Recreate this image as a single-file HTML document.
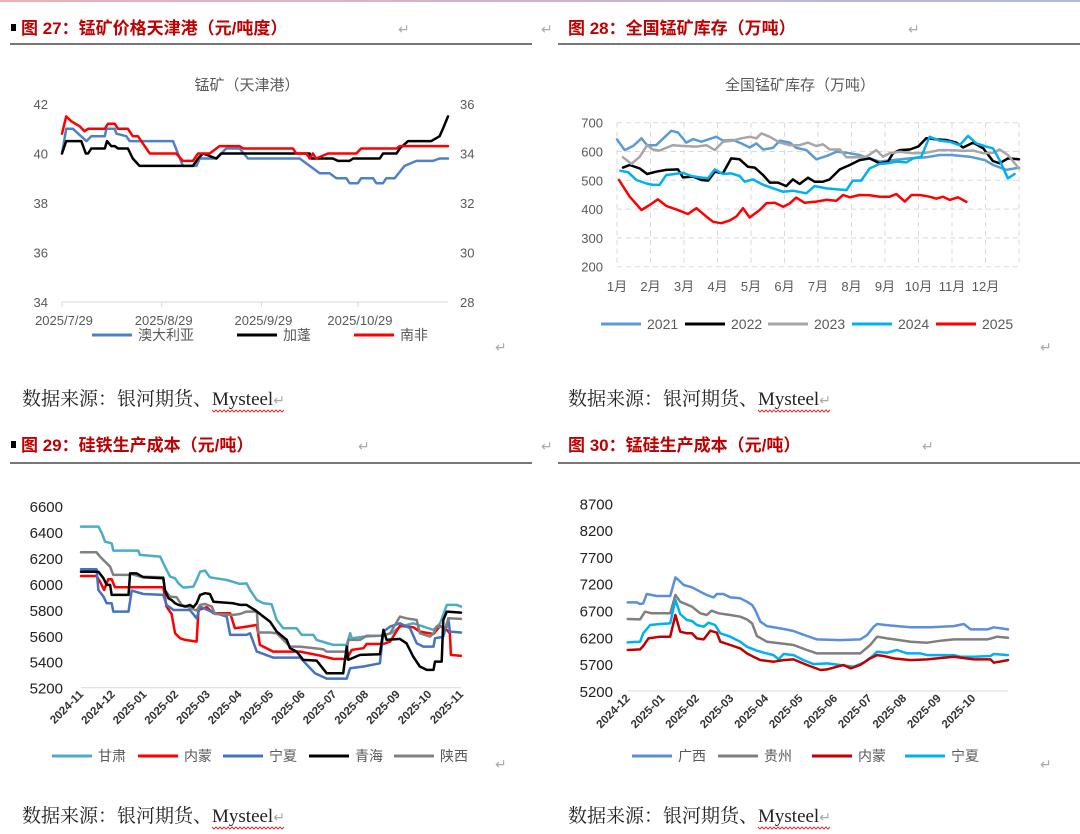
<!DOCTYPE html>
<html><head><meta charset="utf-8">
<style>
body{margin:0;background:#fff;}
#wrap{position:relative;width:1080px;height:834px;overflow:hidden;font-family:"Liberation Sans","Noto Sans CJK SC",sans-serif;}
svg{position:absolute;left:0;top:0;}
</style></head>
<body>
<div id="wrap">
<svg id="s" width="1080" height="834" viewBox="0 0 1080 834">
<defs><linearGradient id="tg" x1="0" x2="1"><stop offset="0" stop-color="#f0b0b8"/><stop offset="1" stop-color="#b0b8e0"/></linearGradient></defs>
<rect x="0" y="0" width="1080" height="2" fill="url(#tg)"/>
<g font-family="'Liberation Sans','Noto Sans CJK SC',sans-serif" font-weight="bold" font-size="17" fill="#c00000">
<rect x="11" y="24" width="5" height="7" fill="#000"/>
<text x="21" y="34">图 27：锰矿价格天津港（元/吨度）</text>
<text x="568" y="34">图 28：全国锰矿库存（万吨）</text>
<rect x="11" y="441" width="5" height="7" fill="#000"/>
<text x="21" y="451">图 29：硅铁生产成本（元/吨）</text>
<text x="568" y="451">图 30：锰硅生产成本（元/吨）</text>
</g>
<g fill="#aaa" font-size="14">
<text x="398" y="34">↵</text><text x="541" y="34">↵</text><text x="908" y="34">↵</text>
<text x="358" y="451">↵</text><text x="541" y="451">↵</text><text x="922" y="451">↵</text>
<text x="495" y="352">↵</text><text x="1040" y="352">↵</text><text x="495" y="769">↵</text><text x="1040" y="769">↵</text>
</g>
<rect x="10" y="43" width="522" height="2" fill="#777"/>
<rect x="558" y="43" width="522" height="2" fill="#777"/>
<rect x="10" y="462" width="522" height="2" fill="#777"/>
<rect x="558" y="462" width="522" height="2" fill="#777"/>
<g font-family="'Liberation Serif','Noto Serif CJK SC',serif" font-size="19" fill="#222">
<text x="22" y="405">数据来源：银河期货、Mysteel<tspan fill="#aaa" font-size="14">↵</tspan></text>
<text x="568" y="405">数据来源：银河期货、Mysteel<tspan fill="#aaa" font-size="14">↵</tspan></text>
<text x="22" y="822">数据来源：银河期货、Mysteel<tspan fill="#aaa" font-size="14">↵</tspan></text>
<text x="568" y="822">数据来源：银河期货、Mysteel<tspan fill="#aaa" font-size="14">↵</tspan></text>
</g>
<g id="waves" fill="none" stroke="#e03030" stroke-width="1"></g>
<g id="g1"></g>
<g id="g2"></g>
<g id="g3"></g>
<g id="g4"></g>
</svg>
</div>
<script>
const c1TickDays=[0,31,62,92];
const c1TickLabels=["2025/7/29","2025/8/29","2025/9/29","2025/10/29"];
const c1LeftTicks=[34,36,38,40,42];
const c1RightTicks=[28,30,32,34,36];
const ausDays=[0,1.3,3.4,7.6,9.1,13.3,13.8,16.4,16.9,20,21,34.5,37.6,41.8,42.8,48,51,55.2,57.8,73.9,77,80.1,83.2,85.3,88.4,89.4,92,93,96.7,97.7,99.8,100.8,103.4,106.5,110.2,115.3,117.4,120];
const ausVals=[40,41,41,40.5,40.7,40.7,41,41,40.8,40.7,40.5,40.5,39.5,39.5,39.8,39.8,40.2,40.2,39.8,39.8,39.5,39.2,39.2,39,39,38.8,38.8,39,39,38.8,38.8,39,39,39.5,39.7,39.7,39.8,39.8];
const safDays=[0,1.3,2.9,5.5,7,8.1,13.3,14.3,16.4,17.4,20.5,22,23.6,27.3,35.5,37.6,40.7,42.3,45.9,49,55.2,56.3,71.8,72.8,76,77,78,79,82.7,91.5,93,104,105,120];
const safVals=[40.8,41.5,41.3,41.1,40.9,41,41,41.2,41.2,41,41,40.7,40.7,40,40,39.7,39.7,40,40,40.3,40.3,40.2,40.2,40,40,39.8,40,39.8,40,40,40.2,40.2,40.3,40.3];
const gabDays=[0,1.3,6,7.4,8.1,9.1,13.3,14,15.3,16.4,17.4,20.5,22,24.1,40.7,42.3,43.8,48,49.5,77,77.5,84.2,85.8,89.4,90.5,98.8,99.8,104,105,107.6,114.8,117.4,118.4,120];
const gabVals=[34,34.5,34.5,34,34,34.2,34.2,34.5,34.3,34.3,34.2,34.2,33.8,33.5,33.5,33.8,34,33.8,34,34,33.8,33.8,33.7,33.7,33.8,33.8,34,34,34.2,34.5,34.5,34.7,35,35.5];
const c2Ticks=[200,300,400,500,600,700];
const c2Months=["1月","2月","3月","4月","5月","6月","7月","8月","9月","10月","11月","12月"];
const y2021x=[0,.23,.48,.73,.9,1.17,1.62,1.82,2.07,2.27,2.52,2.96,3.16,3.46,3.71,3.96,4.16,4.36,4.66,4.86,5.16,5.35,5.65,5.95,6.25,6.55,6.85,7.24,7.54,7.84,8.24,8.73,9.23,9.63,9.98,10.53,10.98,11.23,11.62,12];
const y2021v=[642,605,619,646,622,622,672,666,631,643,634,651,638,640,628,614,628,607,613,638,631,613,605,573,584,599,596,588,576,565,570,576,580,588,588,582,570,553,536,544];
const y2022x=[.18,.38,.68,.9,1.17,1.47,1.82,1.97,2.27,2.52,2.72,2.92,3.16,3.41,3.66,3.91,4.11,4.36,4.56,4.81,5.05,5.25,5.45,5.7,5.9,6.15,6.35,6.65,6.95,7.24,7.54,7.84,8.09,8.24,8.44,8.74,8.99,9.23,9.53,9.83,10.13,10.33,10.63,10.93,11.22,11.42,11.67,12];
const y2022v=[544,553,541,522,530,536,538,510,513,501,499,530,524,576,573,547,544,518,492,492,480,503,487,509,495,495,503,538,553,570,576,559,565,594,605,607,617,646,642,640,631,614,631,611,567,559,576,573];
const y2023x=[.18,.43,.68,.9,1.07,1.27,1.67,1.97,2.37,2.67,2.92,3.16,3.46,3.71,3.96,4.16,4.31,4.56,4.86,5.16,5.45,5.7,5.95,6.15,6.35,6.65,6.85,7.14,7.44,7.74,7.94,8.14,8.44,8.84,9.23,9.63,9.98,10.33,10.63,10.93,11.22,11.42,11.67,12];
const y2023v=[580,557,582,622,607,603,622,619,617,622,605,634,638,646,651,646,663,651,631,622,622,631,619,625,607,607,580,580,582,605,582,594,599,594,596,605,605,602,603,594,596,607,588,541];
const y2024x=[.1,.33,.58,.88,1.07,1.27,1.47,1.72,1.97,2.22,2.47,2.72,2.92,3.16,3.41,3.66,3.81,4.06,4.31,4.56,4.96,5.25,5.65,5.9,6.25,6.55,6.85,7.04,7.29,7.54,7.84,8.09,8.34,8.64,8.84,9.08,9.33,9.63,9.93,10.23,10.48,10.73,11.02,11.22,11.42,11.67,11.87];
const y2024v=[533,528,501,489,484,484,518,522,526,515,510,507,538,522,524,515,495,503,487,476,460,464,455,480,472,469,466,499,499,541,557,559,565,562,576,582,651,638,634,622,654,628,617,611,570,507,522];
const y2025x=[.06,.38,.73,.97,1.22,1.47,1.77,2.12,2.37,2.67,2.87,3.11,3.36,3.56,3.76,3.96,4.26,4.46,4.71,4.96,5.16,5.35,5.6,5.95,6.25,6.55,6.75,6.95,7.24,7.54,7.84,8.14,8.34,8.59,8.79,9.04,9.33,9.53,9.73,9.93,10.18,10.43];
const y2025v=[501,443,397,414,434,411,399,383,403,374,356,351,360,374,403,371,397,420,422,408,420,440,422,426,432,429,449,441,449,448,443,443,452,426,449,449,443,436,443,432,441,425];
const c3Ticks=[5200,5400,5600,5800,6000,6200,6400,6600];
const c3Labels=["2024-11","2024-12","2025-01","2025-02","2025-03","2025-04","2025-05","2025-06","2025-07","2025-08","2025-09","2025-10","2025-11"];
const gsX=[0,.55,.66,.76,.97,1.02,1.81,1.86,2.5,2.65,2.81,2.97,3.08,3.23,3.55,3.65,3.76,3.92,4.07,4.6,5.02,5.23,5.34,5.55,5.76,6.02,6.18,6.39,6.81,6.97,7.34,7.44,7.71,7.97,8.39,8.5,8.55,8.92,9.44,9.81,10.07,10.49,10.81,11.13,11.34,11.55,11.86,12];
const gsV=[6441,6441,6390,6325,6312,6256,6256,6223,6210,6133,6056,6043,6004,5971,5979,6030,6094,6102,6051,6030,6000,6004,5953,5876,5850,5843,5722,5658,5658,5607,5607,5568,5548,5530,5530,5620,5581,5594,5601,5620,5671,5696,5671,5645,5696,5838,5838,5825];
const nmX=[0,.49,.6,.73,.86,.97,1.07,2.6,2.7,2.86,2.97,3.13,3.29,3.65,3.71,3.97,4.18,4.71,4.86,5.23,5.55,5.65,6.07,6.92,7.55,7.97,8.39,8.55,8.92,9.02,9.55,9.76,10.07,10.49,10.7,11.13,11.34,11.55,11.65,11.68,12];
const nmV=[6061,6061,6017,5953,6035,6035,5974,5974,5825,5768,5619,5581,5568,5555,5799,5820,5773,5773,5658,5671,5684,5530,5478,5478,5447,5422,5422,5491,5504,5537,5537,5555,5676,5666,5632,5614,5676,5645,5619,5453,5445];
const nxX=[0,.49,.55,.71,.81,.97,1.02,1.5,1.6,1.97,2.6,2.7,2.92,3.44,3.65,3.76,4.18,4.6,4.71,5.23,5.34,5.55,6.07,6.92,7.39,7.76,8.39,8.5,8.92,9.44,9.55,9.76,10.07,10.39,10.6,10.81,11.13,11.18,11.44,11.6,11.65,12];
const nxV=[6112,6112,5953,5902,5850,5850,5786,5786,5948,5922,5915,5838,5799,5799,5735,5825,5779,5748,5607,5607,5619,5478,5432,5432,5311,5270,5270,5350,5363,5388,5632,5671,5696,5658,5542,5517,5517,5581,5594,5735,5632,5625];
const qhX=[0,.55,.71,.81,.92,.97,1.5,1.55,1.76,1.97,2.6,2.65,2.76,2.86,2.97,3.08,3.29,3.44,3.55,3.65,3.76,3.92,4.07,4.18,4.81,5.02,5.23,5.49,5.76,5.97,6.18,6.5,6.6,6.81,7.02,7.44,7.55,7.76,8.28,8.39,8.44,8.81,9.44,9.55,9.65,10.07,10.28,10.49,10.7,10.92,11.13,11.18,11.39,11.44,11.55,12];
const qhV=[6094,6094,6043,5992,5992,5915,5915,6081,6081,6051,6043,5953,5889,5876,5850,5838,5825,5838,5820,5850,5915,5928,5922,5863,5850,5838,5838,5799,5748,5709,5632,5568,5504,5478,5414,5409,5376,5311,5311,5517,5414,5453,5458,5645,5568,5576,5542,5440,5363,5337,5337,5401,5401,5722,5786,5779];
const sxX=[0,.49,.6,.76,.92,1.02,1.5,1.6,1.86,2.6,2.65,2.81,3.02,3.18,3.34,3.65,3.76,3.92,4.13,4.23,4.81,5.02,5.23,5.55,5.6,5.97,6.18,6.39,6.6,6.92,7.65,7.76,8.39,8.44,8.81,9.02,9.55,9.76,10.07,10.28,10.6,10.7,11.02,11.13,11.23,11.55,11.6,12];
const sxV=[6243,6243,6210,6171,6133,6069,6069,6076,6056,6051,5953,5902,5897,5838,5825,5794,5838,5845,5825,5768,5761,5768,5786,5786,5625,5625,5619,5568,5517,5517,5496,5478,5478,5568,5568,5601,5601,5619,5748,5735,5722,5619,5594,5619,5671,5666,5735,5730];
const c4Ticks=[5200,5700,6200,6700,7200,7700,8200,8700];
const c4Labels=["2024-12","2025-01","2025-02","2025-03","2025-04","2025-05","2025-06","2025-07","2025-08","2025-09","2025-10"];
const gxX=[0,.26,.36,.45,.55,.7,.84,1.23,1.38,1.47,1.62,1.86,2.1,2.29,2.49,2.58,2.77,2.97,3.26,3.45,3.6,3.69,3.84,4.03,4.42,4.8,5.19,5.48,6.15,6.73,6.93,7.12,7.22,7.46,7.8,8.19,8.77,9.44,9.73,9.93,10.41,10.6,11.01];
const gxV=[6853,6853,6822,6834,7008,6990,6971,6971,7319,7270,7176,7133,7052,6990,6946,7008,7008,6946,6928,6865,6803,6710,6492,6411,6368,6318,6225,6163,6150,6163,6243,6399,6449,6430,6411,6387,6387,6411,6449,6349,6349,6387,6349];
const gzX=[0,.36,.5,.7,1.23,1.38,1.52,1.86,2.1,2.29,2.43,2.63,2.97,3.26,3.45,3.6,3.74,4.03,4.42,4.8,5.19,5.48,6.73,7.02,7.22,7.51,8.19,8.67,9.06,9.44,10.41,10.7,11.01];
const gzV=[6542,6536,6679,6648,6648,6990,6865,6772,6648,6617,6698,6648,6617,6586,6536,6461,6225,6119,6088,6057,5964,5901,5901,6057,6212,6181,6119,6100,6138,6163,6163,6212,6194];
const nm4X=[0,.36,.45,.6,.94,1.23,1.38,1.52,1.71,1.86,2.0,2.2,2.39,2.58,2.68,2.97,3.26,3.45,3.64,3.84,4.22,4.51,4.8,5.19,5.58,5.77,6.06,6.25,6.45,6.73,7.02,7.22,7.41,7.7,8.19,8.67,9.44,10.02,10.5,10.6,11.01];
const nm4V=[5964,5976,6038,6181,6212,6212,6617,6306,6275,6275,6181,6163,6324,6287,6119,6057,5995,5901,5839,5777,5746,5777,5790,5684,5591,5603,5653,5684,5622,5684,5808,5870,5852,5808,5777,5790,5839,5790,5790,5727,5777];
const nx4X=[0,.36,.45,.65,.94,1.23,1.38,1.52,1.71,1.86,2.0,2.2,2.34,2.53,2.68,2.97,3.26,3.45,3.74,3.94,4.22,4.37,4.51,4.8,5.09,5.38,5.77,6.15,6.54,6.83,7.07,7.22,7.51,7.8,8.09,8.48,8.67,9.44,9.63,10.02,10.5,10.6,11.01];
const nx4V=[6107,6119,6275,6430,6449,6461,6896,6635,6523,6505,6430,6399,6474,6430,6275,6212,6119,6026,5951,5914,5870,5790,5889,5870,5777,5702,5715,5684,5653,5727,5839,5932,5914,5964,5901,5901,5870,5870,5839,5839,5852,5889,5870];

const NS="http://www.w3.org/2000/svg";
function lin(d0,d1,r0,r1){return v=>r0+(v-d0)*(r1-r0)/(d1-d0);}
function mk(parent,tag,attrs){const e=document.createElementNS(NS,tag);for(const k in attrs)e.setAttribute(k,attrs[k]);parent.appendChild(e);return e;}
function txt(parent,x,y,s,attrs){const t=mk(parent,"text",Object.assign({x:x,y:y},attrs));t.textContent=s;return t;}
function line(parent,xs,vs,sx,sy,color,w,name){
  const d=xs.map((x,i)=>(i?"L":"M")+sx(x).toFixed(1)+","+sy(vs[i]).toFixed(1)).join("");
  const p=mk(parent,"path",{d:d,fill:"none",stroke:color,"stroke-width":w,"stroke-linejoin":"round","stroke-linecap":"round"});
  
  
  return p;
}
function legend(parent,x,y,color,label,name){
  const l=mk(parent,"line",{x1:x,y1:y,x2:x+40,y2:y,stroke:color,"stroke-width":3});
  
  
  const t=txt(parent,x+46,y+5,label,{"font-size":14,fill:"#595959"});
  
  
}
// wavy underlines under "Mysteel"
(function(){
  const w=document.getElementById("waves");
  [[212,410],[758,410],[212,827],[758,827]].forEach(([x0,y0])=>{
    let d="M"+x0+","+y0;
    for(let x=x0;x<x0+70;x+=4)d+=" l2,2 l2,-2";
    const p=mk(w,"path",{d:d});
    
    
  });
})();

(function(){
  const g=document.getElementById("g1");
  const sx=lin(0,120,62,448), syL=lin(34,42,302,104), syR=lin(28,36,302,104);
  const t=txt(g,247,90,"锰矿（天津港）",{"font-size":15,fill:"#595959","text-anchor":"middle"});
  
  
  mk(g,"line",{x1:62,y1:302,x2:448,y2:302,stroke:"#d9d9d9","stroke-width":1});
  c1LeftTicks.forEach(v=>{const e=txt(g,48,syL(v)+5,String(v),{"font-size":13,fill:"#595959","text-anchor":"end"});
    
    });
  c1RightTicks.forEach(v=>{const e=txt(g,460,syR(v)+5,String(v),{"font-size":13,fill:"#595959"});
    
    });
  c1TickDays.forEach((d,i)=>{mk(g,"line",{x1:sx(d),y1:302,x2:sx(d),y2:307,stroke:"#d9d9d9"});
    const e=txt(g,sx(d)+2,325,c1TickLabels[i],{"font-size":13,fill:"#595959","text-anchor":"middle"});
    
    });
  line(g,ausDays,ausVals,sx,syL,"#4e81c8",2.5,"series-australia");
  line(g,gabDays,gabVals,sx,syR,"#000",2.5,"series-gabon");
  line(g,safDays,safVals,sx,syL,"#ff0000",2.5,"series-south-africa");
  legend(g,92,335,"#4e81c8","澳大利亚","legend-australia");
  legend(g,237,335,"#000","加蓬","legend-gabon");
  legend(g,354,335,"#ff0000","南非","legend-south-africa");
})();

(function(){
  const g=document.getElementById("g2");
  const sx=lin(0,12,617,1019), sy=lin(200,700,266.7,122.7);
  const t=txt(g,800,90,"全国锰矿库存（万吨）",{"font-size":15,fill:"#595959","text-anchor":"middle"});
  
  
  c2Ticks.forEach(v=>{mk(g,"line",{x1:617,y1:sy(v),x2:1019,y2:sy(v),stroke:"#d9d9d9","stroke-dasharray":"5,4"});
    const e=txt(g,603,sy(v)+5,String(v),{"font-size":13,fill:"#595959","text-anchor":"end"});
    
    });
  for(let m=0;m<=12;m++)mk(g,"line",{x1:sx(m),y1:122.7,x2:sx(m),y2:266.7,stroke:"#d9d9d9","stroke-dasharray":"5,4"});
  c2Months.forEach((s,i)=>{const e=txt(g,sx(i),291,s,{"font-size":13,fill:"#595959","text-anchor":"middle"});
    
    });
  line(g,y2021x,y2021v,sx,sy,"#5b9bd5",2.5,"series-2021");
  line(g,y2022x,y2022v,sx,sy,"#000",2.5,"series-2022");
  line(g,y2023x,y2023v,sx,sy,"#a6a6a6",2.5,"series-2023");
  line(g,y2024x,y2024v,sx,sy,"#00b0f0",2.5,"series-2024");
  line(g,y2025x,y2025v,sx,sy,"#ff0000",2.5,"series-2025");
  legend(g,601,324,"#5b9bd5","2021","legend-2021");
  legend(g,685,324,"#000","2022","legend-2022");
  legend(g,768,324,"#a6a6a6","2023","legend-2023");
  legend(g,852,324,"#00b0f0","2024","legend-2024");
  legend(g,936,324,"#ff0000","2025","legend-2025");
})();

(function(){
  const g=document.getElementById("g3");
  const sx=lin(0,12,81,461), sy=lin(5200,6600,687.7,506);
  mk(g,"line",{x1:81,y1:687.7,x2:461,y2:687.7,stroke:"#d9d9d9"});
  c3Ticks.forEach(v=>{const e=txt(g,63,sy(v)+6,String(v),{"font-size":15,fill:"#222","text-anchor":"end"});
    
    });
  c3Labels.forEach((s,i)=>{const x=sx(i);const e=txt(g,0,0,s,{"font-size":11.5,"font-weight":"bold",fill:"#333","text-anchor":"end",transform:"translate("+(x+3)+",695) rotate(-45)"});
    
    });
  line(g,gsX,gsV,sx,sy,"#4bacc6",2.5,"series-gansu");
  line(g,nmX,nmV,sx,sy,"#ff0000",2.5,"series-inner-mongolia");
  line(g,nxX,nxV,sx,sy,"#4472c4",2.5,"series-ningxia");
  line(g,sxX,sxV,sx,sy,"#808080",2.5,"series-shaanxi");
  line(g,qhX,qhV,sx,sy,"#000",2.5,"series-qinghai");
  legend(g,52,756,"#4bacc6","甘肃","legend-gansu");
  legend(g,138,756,"#ff0000","内蒙","legend-inner-mongolia");
  legend(g,223,756,"#4472c4","宁夏","legend-ningxia");
  legend(g,309,756,"#000","青海","legend-qinghai");
  legend(g,394,756,"#808080","陕西","legend-shaanxi");
})();

(function(){
  const g=document.getElementById("g4");
  const sx=lin(0,11,627.7,1007.7), sy=lin(5200,8700,691,503.3);
  mk(g,"line",{x1:627.7,y1:691,x2:1007.7,y2:691,stroke:"#d9d9d9"});
  c4Ticks.forEach(v=>{const e=txt(g,613,sy(v)+6,String(v),{"font-size":15,fill:"#222","text-anchor":"end"});
    
    });
  c4Labels.forEach((s,i)=>{const x=sx(i);const e=txt(g,0,0,s,{"font-size":11.5,"font-weight":"bold",fill:"#333","text-anchor":"end",transform:"translate("+(x+3)+",699) rotate(-45)"});
    
    });
  line(g,gxX,gxV,sx,sy,"#5b8fd8",2.5,"series-guangxi");
  line(g,gzX,gzV,sx,sy,"#7f7f7f",2.5,"series-guizhou");
  line(g,nx4X,nx4V,sx,sy,"#00b0f0",2.5,"series-ningxia");
  line(g,nm4X,nm4V,sx,sy,"#c00000",2.5,"series-inner-mongolia");
  legend(g,632,756,"#5b8fd8","广西","legend-guangxi");
  legend(g,718,756,"#7f7f7f","贵州","legend-guizhou");
  legend(g,812,756,"#c00000","内蒙","legend-inner-mongolia");
  legend(g,905,756,"#00b0f0","宁夏","legend-ningxia");
})();
</script>
</body></html>
